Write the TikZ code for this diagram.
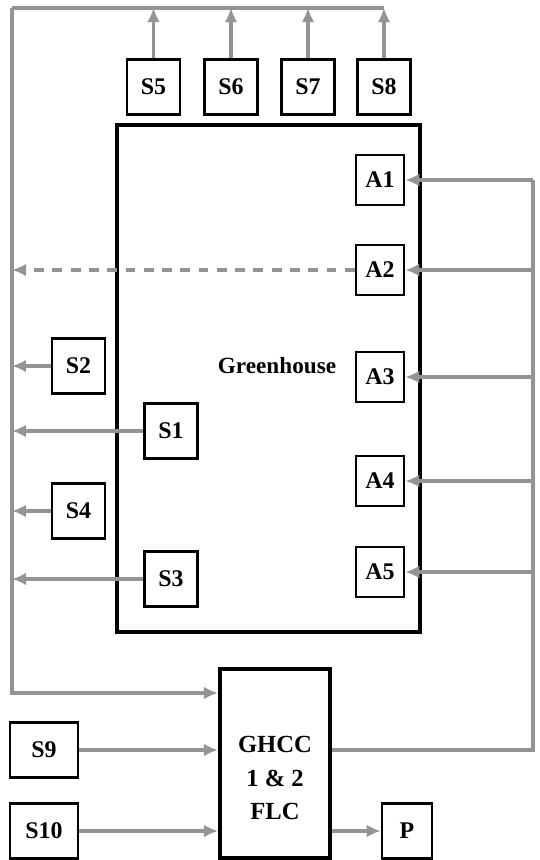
\documentclass[tikz,border=0pt]{standalone}
\usepackage{fontspec}
\setmainfont{Liberation Serif}
\usetikzlibrary{arrows.meta}

\begin{document}
\begin{tikzpicture}[
  x=0.025cm, y=-0.025cm,
  font=\fontsize{17}{20}\selectfont\bfseries,
  box/.style={draw=black, line width=1.8pt, fill=white, inner sep=0pt,
              minimum width=1.32cm, minimum height=1.37cm},
  abox/.style={box, minimum width=1.2cm, minimum height=1.25cm},
  house/.style={draw=black, line width=2.8pt, minimum width=7.575cm, minimum height=12.675cm},
  ctrl/.style={box, line width=2.8pt, minimum width=2.75cm, minimum height=4.72cm},
  wire/.style={draw=black!42, line width=2.2pt},
  flow/.style={wire, -{Latex[length=10pt,width=9pt]}},
  dflow/.style={flow, dash pattern=on 7pt off 6pt}
]
\useasboundingbox (0,0) rectangle (539,860);

\node[house] (gh) at (268.5,378.5) {};
\node[font=\fontsize{16.5}{20}\selectfont\bfseries] (ghlabel) at (277,366) {Greenhouse};

\node[box] (s5) at (153.5,87) {S5};
\node[box] (s6) at (231,87) {S6};
\node[box] (s7) at (308,87) {S7};
\node[box] (s8) at (384,87) {S8};

\node[abox] (a1) at (380,180) {A1};
\node[abox] (a2) at (380,270) {A2};
\node[abox] (a3) at (380,377) {A3};
\node[abox] (a4) at (380,481) {A4};
\node[abox] (a5) at (380,572) {A5};

\node[box] (s2) at (78.5,366) {S2};
\node[box] (s1) at (171,431) {S1};
\node[box] (s4) at (78.5,511) {S4};
\node[box] (s3) at (171,579) {S3};

\node[ctrl] (ghcc) at (275,763.5) {};
\node[align=center, font=\fontsize{17.5}{24}\selectfont\bfseries] (ghcctext) at (275,778) {GHCC\\1 \& 2\\FLC};
\node[box, minimum width=1.7cm] (s9) at (44,750) {S9};
\node[box, minimum width=1.7cm] (s10) at (44,831) {S10};
\node[box, minimum width=1.25cm] (p) at (407,831) {P};

\coordinate (tl) at (12,8);
\coordinate (tr) at (384,8);
\coordinate (bl) at (12,693);
\coordinate (br) at (533,750);
\coordinate (rt) at (533,180);

\draw[wire] (tr) -- (tl);
\draw[flow] (tl) -- (bl) -- (ghcc.west |- bl);
\foreach \s in {s5,s6,s7,s8}
  \draw[flow] (\s.north) -- (\s.north |- tl);

\draw[wire] (ghcc.east |- br) -- (br) -- (rt);
\foreach \a in {a1,a2,a3,a4,a5}
  \draw[flow] (\a.east -| br) -- (\a.east);

\draw[dflow] (a2.west) -- (a2.west -| tl);
\foreach \s in {s1,s2,s3,s4}
  \draw[flow] (\s.west) -- (\s.west -| tl);

\draw[flow] (s9) -- (ghcc.west |- s9);
\draw[flow] (s10) -- (ghcc.west |- s10);
\draw[flow] (ghcc.east |- p) -- (p);
\end{tikzpicture}
\end{document}
